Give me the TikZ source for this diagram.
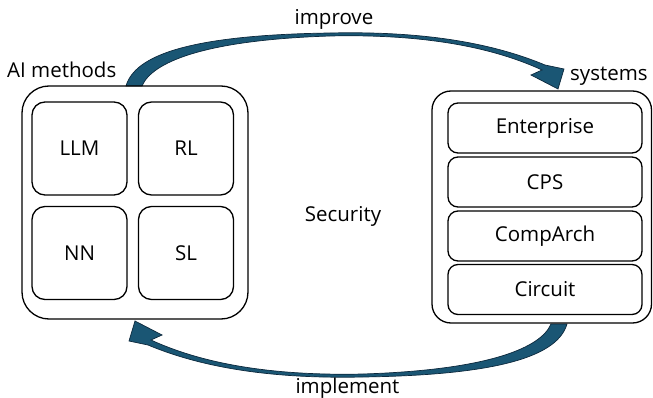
\documentclass[tikz,border=0pt]{standalone}
\usepackage{fontspec}
\setmainfont{Open Sans}
\definecolor{arrowfill}{RGB}{26,86,116}
\definecolor{arrowline}{RGB}{12,40,60}
\begin{document}
\begin{tikzpicture}[x=1pt,y=-1pt,
  font=\fontsize{20.5}{24}\selectfont,
  frame/.style={draw=black,line width=1.3pt,rounded corners=#1},
  methodbox/.style={frame=13pt,minimum width=95pt,minimum height=93pt,inner sep=0pt},
  layerbox/.style={frame=10pt,minimum width=194pt,minimum height=50pt,inner sep=0pt},
  label/.style={inner sep=0pt},
  bentarrow/.pic={
    \filldraw[fill=arrowfill,draw=arrowline,line width=0.7pt,line join=miter]
      (126,86) .. controls (135,55) and (190,35) .. (330,33)
               .. controls (420,31) and (490,42) .. (545,65)
      -- (564,69) -- (558,89) -- (531,75) -- (542,70)
               .. controls (490,46) and (420,34) .. (330,36)
               .. controls (205,40) and (152,62) .. (142,86) -- cycle;
  }]
\useasboundingbox (0,0) rectangle (653,398);

% curved block arrows between the two groups
\pic {bentarrow};
\pic[rotate around={180:(346.5,205)}] {bentarrow};

% AI methods group
\node[frame=27pt,minimum width=226pt,minimum height=233pt,inner sep=0pt] (ai) at (135,202.5) {};
\node[methodbox] (llm) at (79.5,148.5) {LLM};
\node[methodbox] (rl)  at (186,148.5) {RL};
\node[methodbox] (nn)  at (79.5,253) {NN};
\node[methodbox] (sl)  at (186,253) {SL};

% systems group
\node[frame=19pt,minimum width=219.5pt,minimum height=232pt,inner sep=0pt] (sys) at (541.75,207) {};
\node[layerbox] (ent)  at (545,128) {Enterprise};
\node[layerbox] (cps)  at (545,182) {CPS};
\node[layerbox] (arch) at (545,236) {CompArch};
\node[layerbox] (circ) at (545,289.5) {Circuit};

% captions
\node[label,anchor=base west] (aiL)  at (7,78)  {AI methods};
\node[label,anchor=base west] (sysL) at (570,81) {systems};
\node[label,anchor=base] (imp) at (334,25) {improve};
\node[label,anchor=base] (sec) at (343,222) {Security};
\node[label,anchor=base] (impl) at (347.5,393) {implement};
\end{tikzpicture}
\end{document}
